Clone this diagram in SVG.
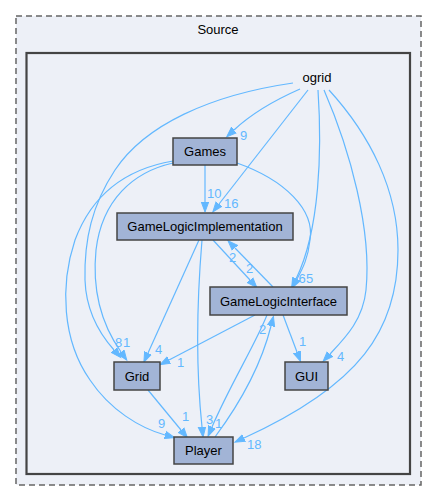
<svg xmlns="http://www.w3.org/2000/svg" width="437" height="501" viewBox="0 0 437 501">
<style>
text{font-family:"Liberation Sans",Arial,sans-serif;font-size:13px}
.n rect{fill:#a2b4d6;stroke:#444;stroke-width:1.5}
.n text{fill:#000;text-anchor:middle}
.e path{fill:none;stroke:#63b8ff;stroke-width:1.2;marker-end:url(#ah)}
.e text{fill:#63b8ff}
</style>
<defs>
<marker id="ah" markerUnits="userSpaceOnUse" markerWidth="12" markerHeight="10" refX="0" refY="4" orient="auto" viewBox="0 -1 12 10">
<path d="M0,0.3 L10,4 L0,7.7 z" fill="#63b8ff" stroke="#63b8ff" stroke-width="1"/>
</marker>
</defs>
<rect width="437" height="501" fill="#fff"/>
<g id="cluster_source">
<rect x="16" y="16" width="405" height="469" fill="#edf0f7" stroke="#666" stroke-width="1.5" stroke-dasharray="6,4"/>
<text x="218" y="34" text-anchor="middle">Source</text>
</g>
<g id="cluster_ogrid">
<rect x="26.5" y="53" width="383.5" height="421" fill="#edf0f7" stroke="#444" stroke-width="2.2"/>
<text x="317" y="82" text-anchor="middle">ogrid</text>
</g>
<g id="edges" class="e">
<path d="M300,89 C275,100 250,115 234,130"/><text x="240" y="140">9</text>
<path d="M308,90 L219,204"/><text x="224" y="208">16</text>
<path d="M318,90 C322,150 320,230 296,279"/><text x="306" y="283">5</text>
<path d="M237,163 C285,180 315,210 310,240 C308,258 303,268 297,279"/><text x="298.5" y="283">6</text>
<path d="M324,90 C350,150 372,230 366,290 C363,320 345,338 330,354"/><text x="337" y="361">4</text>
<path d="M329,90 C370,135 398,190 398,250 C398,330 360,385 244,438"/><text x="247" y="449">18</text>
<path d="M293,83 C210,95 145,125 115,170 C92,205 84,240 85,280 C86,310 98,332 114,350"/><text x="123" y="347">1</text>
<path d="M173,163 C133,172 102,200 96,250 C92,290 102,325 121,352"/><text x="115" y="347">8</text>
<path d="M173,161 C120,170 90,200 75,240 C60,285 62,340 90,380 C110,410 140,428 165,435"/><text x="158" y="428">9</text>
<path d="M205,165 L205,202"/><text x="207" y="198">10</text>
<path d="M199,240 L148,353"/><text x="155" y="354">4</text>
<path d="M213,240 L250,280"/><text x="246" y="273">2</text>
<path d="M273,287 L235,248"/><text x="229" y="262">2</text>
<path d="M202,240 C197,300 196,370 202,427"/><text x="206" y="424">3</text>
<path d="M267,315 C255,345 230,385 212,427"/><text x="215" y="428">1</text>
<path d="M215,437 C235,410 260,370 271,326"/><text x="259" y="334">2</text>
<path d="M255,315 L169,360"/><text x="177" y="367">1</text>
<path d="M283,315 L297,352"/><text x="299" y="346">1</text>
<path d="M148,390 L181,430"/><text x="182" y="421">1</text>
</g>
<g id="node_games" class="n"><rect x="173" y="138" width="64" height="27"/><text x="205" y="156">Games</text></g>
<g id="node_glimpl" class="n"><rect x="117" y="213" width="176" height="27"/><text x="205" y="231">GameLogicImplementation</text></g>
<g id="node_glinterface" class="n"><rect x="210" y="287" width="137" height="28"/><text x="278.5" y="306">GameLogicInterface</text></g>
<g id="node_grid" class="n"><rect x="114" y="362" width="46" height="28"/><text x="137" y="381">Grid</text></g>
<g id="node_gui" class="n"><rect x="285" y="362" width="43" height="28"/><text x="306.5" y="381">GUI</text></g>
<g id="node_player" class="n"><rect x="174" y="437" width="59" height="27"/><text x="203.5" y="455">Player</text></g>
</svg>
